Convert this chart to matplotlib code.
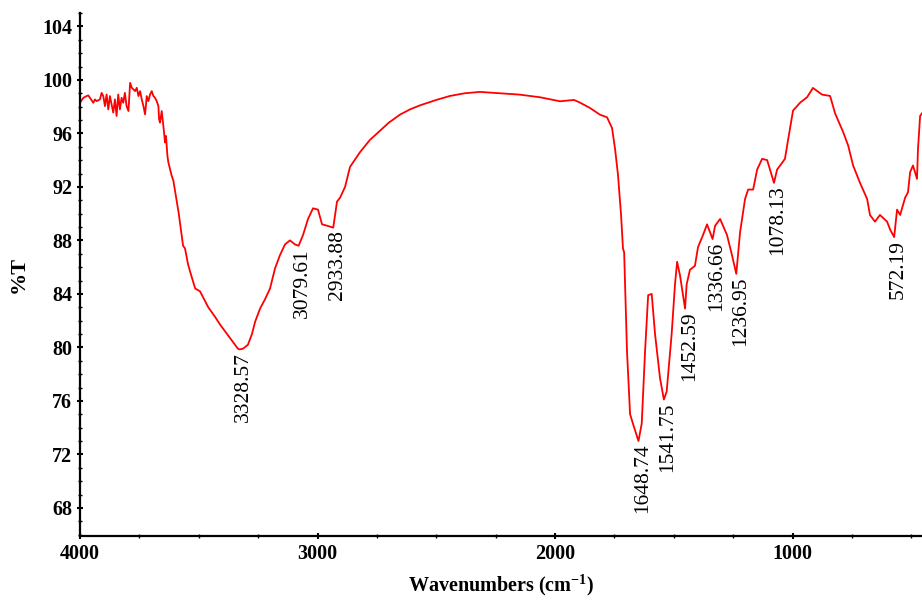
import matplotlib
matplotlib.use("Agg")
import matplotlib.pyplot as plt
from matplotlib.ticker import MultipleLocator

# ---- data ----
wavenumber = [
    4000, 3986, 3972, 3965, 3958, 3944, 3937, 3930, 3916, 3909, 3902, 3895, 3888, 3881, 3874,
    3867, 3860, 3853, 3846, 3839, 3832, 3825, 3818, 3811, 3804, 3796, 3789, 3782, 3775, 3768,
    3761, 3754, 3747, 3740, 3733, 3726, 3719, 3712, 3705, 3698, 3691, 3684, 3677, 3670, 3667,
    3663, 3656, 3649, 3642, 3638, 3632, 3628, 3621, 3614, 3607, 3595, 3585, 3575, 3566, 3558,
    3545, 3532, 3515, 3495, 3460, 3432, 3410, 3381, 3356, 3335, 3328.57, 3314, 3293, 3276,
    3263, 3242, 3221, 3200, 3179, 3158, 3137, 3116, 3095, 3079.61, 3061, 3040, 3019, 2998,
    2981, 2960, 2933.88, 2926, 2918, 2905, 2884, 2863, 2821, 2780, 2737, 2700, 2653, 2610,
    2568, 2500, 2442, 2380, 2316, 2232, 2150, 2063, 1979, 1920, 1895, 1853, 1811, 1781, 1760,
    1747, 1735, 1722, 1714, 1709, 1697, 1684, 1672, 1648.74, 1635, 1621, 1608, 1593, 1579,
    1558, 1541.75, 1530, 1509, 1495, 1486, 1474, 1452.59, 1446, 1432, 1411, 1398, 1377, 1360,
    1336.66, 1326, 1305, 1276, 1255, 1236.95, 1221, 1200, 1187, 1166, 1149, 1128, 1107,
    1078.13, 1065, 1044, 1032, 1019, 998, 968, 939, 914, 876, 842, 821, 787, 766, 745, 716,
    686, 674, 653, 632, 602, 589, 572.19, 560, 547, 526, 514, 505, 493, 476, 472, 463, 455,
]
transmittance = [
    98.29, 98.66, 98.79, 98.84, 98.66, 98.29, 98.54, 98.41, 98.54, 99.03, 98.79, 98.04, 98.91,
    97.79, 98.79, 98.17, 97.55, 98.54, 97.30, 98.91, 97.79, 98.66, 98.29, 99.03, 98.04, 97.67,
    99.78, 99.41, 99.28, 99.16, 99.41, 98.79, 99.16, 98.54, 98.04, 97.42, 98.79, 98.41, 98.91,
    99.16, 98.79, 98.66, 98.41, 98.04, 97.05, 96.80, 97.67, 96.56, 95.32, 95.81, 94.33, 93.83,
    93.33, 92.84, 92.47, 91.20, 90.10, 88.80, 87.60, 87.40, 86.20, 85.40, 84.40, 84.20, 83.00,
    82.30, 81.70, 81.00, 80.40, 79.90, 79.85, 79.90, 80.20, 81.00, 81.90, 82.90, 83.60, 84.40,
    85.90, 86.90, 87.70, 88.00, 87.70, 87.60, 88.40, 89.60, 90.40, 90.30, 89.20, 89.10, 88.95,
    89.90, 90.90, 91.20, 92.00, 93.50, 94.60, 95.50, 96.20, 96.80, 97.40, 97.80, 98.10, 98.50,
    98.80, 99.00, 99.10, 99.00, 98.90, 98.70, 98.40, 98.50, 98.30, 97.90, 97.40, 97.20, 96.40,
    94.80, 92.90, 89.90, 87.40, 87.10, 79.70, 75.00, 74.30, 73.00, 74.30, 79.70, 83.90, 84.00,
    81.00, 77.70, 76.10, 76.70, 81.00, 84.70, 86.40, 85.40, 82.90, 84.70, 85.80, 86.10, 87.50,
    88.40, 89.20, 88.10, 89.10, 89.60, 88.40, 86.90, 85.50, 88.60, 91.10, 91.80, 91.80, 93.30,
    94.10, 94.00, 92.30, 93.30, 93.80, 94.10, 95.50, 97.70, 98.30, 98.70, 99.40, 98.90, 98.80,
    97.50, 96.10, 95.10, 93.60, 92.30, 91.10, 89.90, 89.40, 89.90, 89.40, 88.80, 88.25, 90.30,
    89.90, 91.20, 91.60, 93.10, 93.60, 92.60, 94.80, 97.30, 97.50,
]

peak_positions = [3328.57, 3079.61, 2933.88, 1648.74, 1541.75, 1452.59, 1336.66, 1236.95, 1078.13, 572.19]
peak_values = [79.85, 87.60, 88.95, 73.00, 76.10, 82.90, 88.10, 85.50, 92.30, 88.25]
peak_labels = ["3328.57", "3079.61", "2933.88", "1648.74", "1541.75", "1452.59",
               "1336.66", "1236.95", "1078.13", "572.19"]

x_ticks = [4000, 3000, 2000, 1000]
y_ticks = [68, 72, 76, 80, 84, 88, 92, 96, 100, 104]

serif = ["Liberation Serif", "DejaVu Serif"]
plt.rcParams["font.family"] = serif
plt.rcParams["mathtext.fontset"] = "custom"
plt.rcParams["mathtext.rm"] = "Liberation Serif"
plt.rcParams["mathtext.bf"] = "Liberation Serif:bold"

fig = plt.figure(figsize=(9.22, 6.0), dpi=100)
ax = fig.add_axes([80 / 922, 64 / 600, 842 / 922, 523 / 600])

ax.plot(wavenumber, transmittance, color="#ff0000", linewidth=1.3)

ax.set_xlim(4000, 455)
ax.set_ylim(65.9, 105.0)

for x, y, lab in zip(peak_positions, peak_values, peak_labels):
    ax.annotate(lab, xy=(x, y), xytext=(3, -2), textcoords="offset points",
                rotation=90, ha="center", va="top", fontsize=15.5, color="black")

ax.set_xticks(x_ticks)
ax.set_xticklabels([str(t) for t in x_ticks])
ax.set_yticks(y_ticks)
ax.set_yticklabels([str(t) for t in y_ticks])
ax.xaxis.set_minor_locator(MultipleLocator(250))
ax.yaxis.set_minor_locator(MultipleLocator(1))

for lab in ax.get_xticklabels() + ax.get_yticklabels():
    lab.set_fontweight("bold")
    lab.set_fontsize(14.5)

ax.tick_params(axis="both", which="major", direction="inout", length=5, width=1.5, pad=3)
ax.tick_params(axis="both", which="minor", direction="inout", length=3, width=1.0)

ax.spines["top"].set_visible(False)
ax.spines["right"].set_visible(False)
ax.spines["left"].set_linewidth(1.6)
ax.spines["bottom"].set_linewidth(1.6)

ax.set_xlabel("Wavenumbers (cm$^{\\mathbf{-1}}$)", fontsize=14.5, fontweight="bold", labelpad=6)
ax.set_ylabel("%T", fontsize=16, fontweight="bold", labelpad=10)

fig.savefig("out.png", dpi=100)
